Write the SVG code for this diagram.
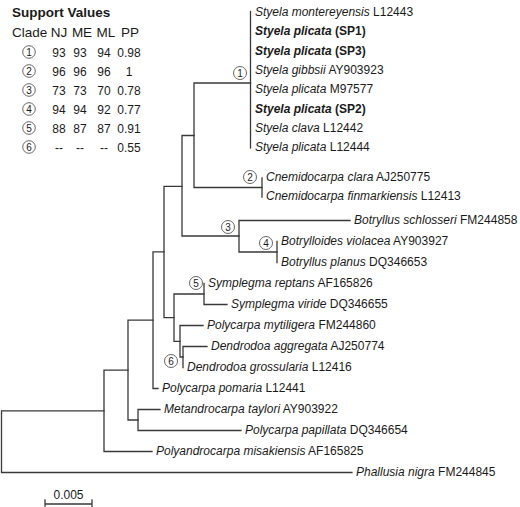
<svg xmlns="http://www.w3.org/2000/svg" width="520" height="507" viewBox="0 0 520 507">
<style>
.bg{fill:#ffffff}
.br{fill:none;stroke:#383838;stroke-width:1.3;stroke-linecap:square}
.t{font-family:"Liberation Sans",Arial,sans-serif;font-size:12px;fill:#1a1a1a}
.i{font-style:italic}
.b{font-weight:bold}
.h{font-family:"Liberation Sans",Arial,sans-serif;font-size:13.5px;fill:#1a1a1a}
.n{font-family:"Liberation Sans",Arial,sans-serif;font-size:12px;fill:#1a1a1a;text-anchor:middle}
.c{fill:#ffffff;stroke:#555555;stroke-width:0.9}
.cd{font-family:"Liberation Sans",Arial,sans-serif;font-size:10px;fill:#1a1a1a;text-anchor:middle}
</style>
<rect class="bg" x="0" y="0" width="520" height="507"/>
<g id="legend">
<text class="h b" x="12" y="17">Support Values</text>
<text class="h" x="12" y="37">Clade</text>
<text class="h" x="59" y="37" text-anchor="middle">NJ</text>
<text class="h" x="82" y="37" text-anchor="middle">ME</text>
<text class="h" x="106" y="37" text-anchor="middle">ML</text>
<text class="h" x="130" y="37" text-anchor="middle">PP</text>
<g id="legend-1"><circle class="c" cx="29" cy="52" r="6.3"/><text class="cd" x="29" y="55.6">1</text><text class="n" x="59" y="56.5">93</text><text class="n" x="80" y="56.5">93</text><text class="n" x="104" y="56.5">94</text><text class="n" x="129" y="56.5">0.98</text></g>
<g id="legend-2"><circle class="c" cx="29" cy="71" r="6.3"/><text class="cd" x="29" y="74.6">2</text><text class="n" x="59" y="75.5">96</text><text class="n" x="80" y="75.5">96</text><text class="n" x="104" y="75.5">96</text><text class="n" x="129" y="75.5">1</text></g>
<g id="legend-3"><circle class="c" cx="29" cy="90" r="6.3"/><text class="cd" x="29" y="93.6">3</text><text class="n" x="59" y="94.5">73</text><text class="n" x="80" y="94.5">73</text><text class="n" x="104" y="94.5">70</text><text class="n" x="129" y="94.5">0.78</text></g>
<g id="legend-4"><circle class="c" cx="29" cy="109" r="6.3"/><text class="cd" x="29" y="112.6">4</text><text class="n" x="59" y="113.5">94</text><text class="n" x="80" y="113.5">94</text><text class="n" x="104" y="113.5">92</text><text class="n" x="129" y="113.5">0.77</text></g>
<g id="legend-5"><circle class="c" cx="29" cy="128" r="6.3"/><text class="cd" x="29" y="131.6">5</text><text class="n" x="59" y="132.5">88</text><text class="n" x="80" y="132.5">87</text><text class="n" x="104" y="132.5">87</text><text class="n" x="129" y="132.5">0.91</text></g>
<g id="legend-6"><circle class="c" cx="29" cy="147" r="6.3"/><text class="cd" x="29" y="150.6">6</text><text class="n" x="59" y="151.5">--</text><text class="n" x="80" y="151.5">--</text><text class="n" x="104" y="151.5">--</text><text class="n" x="129" y="151.5">0.55</text></g>
</g>
<g id="connectors">
<path class="br" d="M1.5,410.8V472.5M1.5,410.8H104M1.5,472.5H352"/>
<path class="br" d="M104,370.1V451.5M104,370.1H128M104,451.5H152"/>
<path class="br" d="M128,320.2V420M128,320.2H153M128,420H138"/>
<path class="br" d="M138,409.5V430.5M138,409.5H160M138,430.5H241"/>
<path class="br" d="M153,251.9V388.5M153,251.9H164M153,388.5H158"/>
<path class="br" d="M164,186.3V317.6M164,186.3H182M164,317.6H174"/>
<path class="br" d="M182,135.5V236M182,135.5H194M182,236H239"/>
<path class="br" d="M194,83V187.5M194,83H250.5M194,187.5H262"/>
<path class="br" d="M250.5,11.5V148"/>
<path class="br" d="M262,178V197"/>
<path class="br" d="M239,220.5V252M239,220.5H350M239,252H277"/>
<path class="br" d="M277,241.5V262.5"/>
<path class="br" d="M174,294V341.3M174,294H204M174,341.3H180"/>
<path class="br" d="M204,283.5V304.5M204,304.5H227"/>
<path class="br" d="M180,325.5V357M180,325.5H203M180,357H183"/>
<path class="br" d="M183,346.5V367.5M183,346.5H207"/>
<path class="br" d="M45,504H92M45,500V507M92,500V507"/>
</g>
<g id="clade-marks">
<g id="clade-1"><circle class="c" cx="240" cy="73" r="6.5"/><text class="cd" x="240" y="76.6">1</text></g>
<g id="clade-2"><circle class="c" cx="250" cy="177" r="6.5"/><text class="cd" x="250" y="180.6">2</text></g>
<g id="clade-3"><circle class="c" cx="228" cy="227" r="6.5"/><text class="cd" x="228" y="230.6">3</text></g>
<g id="clade-4"><circle class="c" cx="266" cy="243" r="6.5"/><text class="cd" x="266" y="246.6">4</text></g>
<g id="clade-5"><circle class="c" cx="196" cy="283" r="6.5"/><text class="cd" x="196" y="286.6">5</text></g>
<g id="clade-6"><circle class="c" cx="171" cy="361" r="6.5"/><text class="cd" x="171" y="364.6">6</text></g>
</g>
<g id="taxa">
<text id="t1" class="t" x="255" y="16"><tspan class="i">Styela montereyensis</tspan> L12443</text>
<text id="t2" class="t b" x="255" y="35.3"><tspan class="i">Styela plicata</tspan> (SP1)</text>
<text id="t3" class="t b" x="255" y="54.6"><tspan class="i">Styela plicata</tspan> (SP3)</text>
<text id="t4" class="t" x="255" y="73.9"><tspan class="i">Styela gibbsii</tspan> AY903923</text>
<text id="t5" class="t" x="255" y="93.2"><tspan class="i">Styela plicata</tspan> M97577</text>
<text id="t6" class="t b" x="255" y="112.5"><tspan class="i">Styela plicata</tspan> (SP2)</text>
<text id="t7" class="t" x="255" y="131.8"><tspan class="i">Styela clava</tspan> L12442</text>
<text id="t8" class="t" x="255" y="151"><tspan class="i">Styela plicata</tspan> L12444</text>
<text id="t9" class="t" x="266" y="180.5"><tspan class="i">Cnemidocarpa clara</tspan> AJ250775</text>
<text id="t10" class="t" x="266" y="199.5"><tspan class="i">Cnemidocarpa finmarkiensis</tspan> L12413</text>
<text id="t11" class="t" x="354" y="223.5"><tspan class="i">Botryllus schlosseri</tspan> FM244858</text>
<text id="t12" class="t" x="281" y="244.5"><tspan class="i">Botrylloides violacea</tspan> AY903927</text>
<text id="t13" class="t" x="281" y="265.5"><tspan class="i">Botryllus planus</tspan> DQ346653</text>
<text id="t14" class="t" x="208" y="286.5"><tspan class="i">Symplegma reptans</tspan> AF165826</text>
<text id="t15" class="t" x="231" y="307.5"><tspan class="i">Symplegma viride</tspan> DQ346655</text>
<text id="t16" class="t" x="207" y="328.5"><tspan class="i">Polycarpa mytiligera</tspan> FM244860</text>
<text id="t17" class="t" x="211" y="349.5"><tspan class="i">Dendrodoa aggregata</tspan> AJ250774</text>
<text id="t18" class="t" x="187" y="370.5"><tspan class="i">Dendrodoa grossularia</tspan> L12416</text>
<text id="t19" class="t" x="162" y="391.5"><tspan class="i">Polycarpa pomaria</tspan> L12441</text>
<text id="t20" class="t" x="164" y="412.5"><tspan class="i">Metandrocarpa taylori</tspan> AY903922</text>
<text id="t21" class="t" x="245" y="433.5"><tspan class="i">Polycarpa papillata</tspan> DQ346654</text>
<text id="t22" class="t" x="156" y="454.5"><tspan class="i">Polyandrocarpa misakiensis</tspan> AF165825</text>
<text id="t23" class="t" x="356" y="475.5"><tspan class="i">Phallusia nigra</tspan> FM244845</text>
</g>
<g id="scale">
<text class="n" x="68.5" y="499">0.005</text>
</g>
</svg>
